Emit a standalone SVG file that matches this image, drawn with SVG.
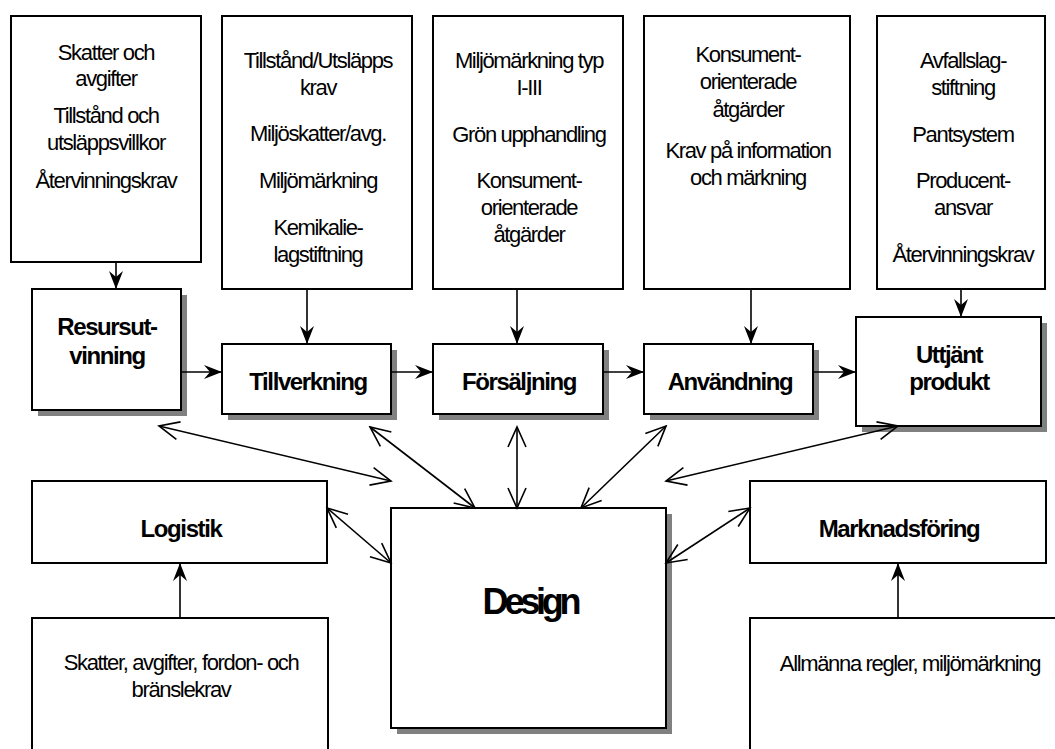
<svg xmlns="http://www.w3.org/2000/svg" width="1055" height="749" viewBox="0 0 1055 749">
<style>
.box{fill:#fff;stroke:#000;stroke-width:2}
.sh{fill:#808080;stroke:none}
.t{font-family:"Liberation Sans",Arial,sans-serif;font-size:22px;letter-spacing:-1.35px;text-anchor:middle;fill:#000}
.b{font-family:"Liberation Sans",Arial,sans-serif;font-size:24px;font-weight:bold;letter-spacing:-1.4px;text-anchor:middle;fill:#000}
.d{font-family:"Liberation Sans",Arial,sans-serif;font-size:36px;font-weight:bold;letter-spacing:-4.2px;text-anchor:middle;fill:#000}
.c{fill:none;stroke:#000;stroke-width:1.6}
.f{marker-end:url(#fa)}
.o{marker-start:url(#oa);marker-end:url(#oa)}
</style>
<defs>
<marker id="fa" markerUnits="userSpaceOnUse" viewBox="-22 -10 24 20" refX="0" refY="0" markerWidth="24" markerHeight="20" orient="auto">
<path d="M0,0 L-18,-7 L-12,0 L-18,7 Z" fill="#000"/>
</marker>
<marker id="oa" markerUnits="userSpaceOnUse" viewBox="-24 -12 26 24" refX="0" refY="0" markerWidth="26" markerHeight="24" orient="auto-start-reverse">
<path d="M-20,-9 L0,0 L-20,9" fill="none" stroke="#000" stroke-width="1.6"/>
</marker>
</defs>
<rect width="1055" height="749" fill="#fff"/>

<g id="top1"><rect class="box" x="11" y="16" width="190" height="246"/>
<text class="t" x="106" y="60">Skatter och</text><text class="t" x="106" y="86">avgifter</text>
<text class="t" x="106" y="123">Tillstånd och</text><text class="t" x="106" y="150">utsläppsvillkor</text>
<text class="t" x="106" y="188">Återvinningskrav</text></g>

<g id="top2"><rect class="box" x="222" y="16" width="190" height="273"/>
<text class="t" x="318" y="68">Tillstånd/Utsläpps</text><text class="t" x="318" y="95">krav</text>
<text class="t" x="318" y="141">Miljöskatter/avg.</text><text class="t" x="318" y="188">Miljömärkning</text>
<text class="t" x="318" y="235">Kemikalie-</text><text class="t" x="318" y="262">lagstiftning</text></g>

<g id="top3"><rect class="box" x="433" y="16" width="190" height="273"/>
<text class="t" x="529" y="68">Miljömärkning typ</text><text class="t" x="529" y="95">I-III</text>
<text class="t" x="529" y="142">Grön upphandling</text><text class="t" x="529" y="188">Konsument-</text>
<text class="t" x="529" y="215">orienterade</text><text class="t" x="529" y="242">åtgärder</text></g>

<g id="top4"><rect class="box" x="644" y="16" width="206" height="273"/>
<text class="t" x="748" y="62">Konsument-</text><text class="t" x="748" y="89">orienterade</text>
<text class="t" x="748" y="117">åtgärder</text><text class="t" x="748" y="158">Krav på information</text>
<text class="t" x="748" y="185">och märkning</text></g>

<g id="top5"><rect class="box" x="877" y="16" width="168" height="273"/>
<text class="t" x="963" y="68">Avfallslag-</text><text class="t" x="963" y="95">stiftning</text>
<text class="t" x="963" y="142">Pantsystem</text><text class="t" x="963" y="188">Producent-</text>
<text class="t" x="963" y="215">ansvar</text><text class="t" x="963" y="262">Återvinningskrav</text></g>

<g id="resurs"><rect class="sh" x="38" y="295" width="149" height="121"/><rect class="box" x="32" y="289" width="149" height="121"/>
<text class="b" x="107" y="335">Resursut-</text><text class="b" x="107" y="364">vinning</text></g>

<g id="tillverkning"><rect class="sh" x="228" y="350" width="169" height="70"/><rect class="box" x="222" y="344" width="169" height="70"/>
<text class="b" x="308" y="390">Tillverkning</text></g>

<g id="forsaljning"><rect class="sh" x="439" y="350" width="170" height="70"/><rect class="box" x="433" y="344" width="170" height="70"/>
<text class="b" x="519" y="390">Försäljning</text></g>

<g id="anvandning"><rect class="sh" x="650" y="350" width="169" height="70"/><rect class="box" x="644" y="344" width="169" height="70"/>
<text class="b" x="730" y="390">Användning</text></g>

<g id="uttjant"><rect class="sh" x="862" y="323" width="185" height="109"/><rect class="box" x="856" y="317" width="185" height="109"/>
<text class="b" x="949" y="363">Uttjänt</text><text class="b" x="949" y="390">produkt</text></g>

<g id="logistik"><rect class="box" x="32" y="481" width="295" height="82"/>
<text class="b" x="181" y="537">Logistik</text></g>

<g id="marknadsforing"><rect class="box" x="750" y="481" width="296" height="82"/>
<text class="b" x="899" y="537">Marknadsföring</text></g>

<g id="design"><rect class="sh" x="397" y="514" width="275" height="220"/><rect class="box" x="391" y="508" width="275" height="220"/>
<text class="d" x="530" y="614">Design</text></g>

<g id="bottom1"><rect class="box" x="32" y="618" width="296" height="200"/>
<text class="t" x="181" y="670">Skatter, avgifter, fordon- och</text><text class="t" x="181" y="697">bränslekrav</text></g>

<g id="bottom2"><rect class="box" x="750" y="618" width="330" height="200"/>
<text class="t" x="910" y="671">Allmänna regler, miljömärkning</text></g>

<g id="connectors">
<line class="c f" x1="116" y1="262" x2="116" y2="289"/>
<line class="c f" x1="307" y1="289" x2="307" y2="344"/>
<line class="c f" x1="517" y1="289" x2="517" y2="344"/>
<line class="c f" x1="751" y1="289" x2="751" y2="344"/>
<line class="c f" x1="961" y1="289" x2="961" y2="317"/>
<line class="c f" x1="181" y1="372" x2="222" y2="372"/>
<line class="c f" x1="391" y1="372" x2="433" y2="372"/>
<line class="c f" x1="603" y1="372" x2="644" y2="372"/>
<line class="c f" x1="813" y1="372" x2="856" y2="372"/>
<line class="c f" x1="180" y1="618" x2="180" y2="563"/>
<line class="c f" x1="898" y1="618" x2="898" y2="563"/>
<line class="c o" x1="159" y1="426" x2="391" y2="481"/>
<line class="c o" x1="370" y1="427" x2="475" y2="508"/>
<line class="c o" x1="517" y1="427" x2="517" y2="508"/>
<line class="c o" x1="666" y1="426" x2="581" y2="508"/>
<line class="c o" x1="898" y1="426" x2="666" y2="481"/>
<line class="c o" x1="327" y1="508" x2="391" y2="563"/>
<line class="c o" x1="750" y1="508" x2="666" y2="563"/>
</g>
</svg>
